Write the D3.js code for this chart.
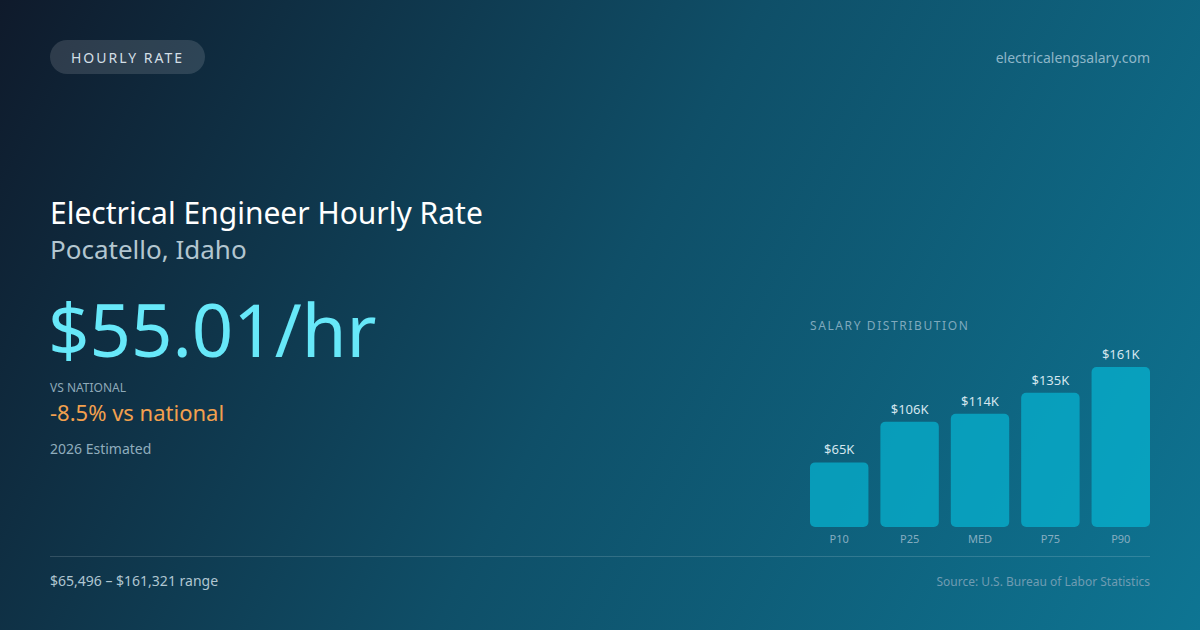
<!DOCTYPE html>
<html>
<head>
<meta charset="utf-8">
<script src="https://cdn.jsdelivr.net/npm/d3@7"></script>
<style>
  html, body { margin: 0; padding: 0; background: #0f172a; }
  svg { display: block; font-family: "Noto Sans", "Open Sans", sans-serif; }
</style>
</head>
<body>
<svg id="chart"></svg>
<script>
const categories = ["P10", "P25", "MED", "P75", "P90"];
const salaryK = [65, 106, 114, 135, 161];
const valueLabels = ["$65K", "$106K", "$114K", "$135K", "$161K"];

const width = 1200;
const height = 630;

const svg = d3.select("#chart")
  .attr("width", width)
  .attr("height", height)
  .attr("viewBox", [0, 0, width, height]);

// Background gradient
const defs = svg.append("defs");
const grad = defs.append("linearGradient")
  .attr("id", "bg")
  .attr("gradientUnits", "userSpaceOnUse")
  .attr("x1", 0).attr("y1", 0)
  .attr("x2", 1200).attr("y2", 630);
grad.append("stop").attr("offset", "0%").attr("stop-color", "#0f1a2b");
grad.append("stop").attr("offset", "50%").attr("stop-color", "#0f4f68");
grad.append("stop").attr("offset", "100%").attr("stop-color", "#0e7593");

svg.append("rect")
  .attr("width", width)
  .attr("height", height)
  .attr("fill", "url(#bg)");

// Pill badge
svg.append("rect")
  .attr("x", 50).attr("y", 40)
  .attr("width", 155).attr("height", 34)
  .attr("rx", 17)
  .attr("fill", "rgba(255,255,255,0.13)");
svg.append("text")
  .attr("x", 127.5).attr("y", 63)
  .attr("text-anchor", "middle")
  .style("font-size", "14px")
  .style("letter-spacing", "2px")
  .style("fill", "#d3dfe6")
  .text("HOURLY RATE");

svg.append("text")
  .attr("x", 1150).attr("y", 63)
  .attr("text-anchor", "end")
  .style("font-size", "14px")
  .style("fill", "#8db6c8")
  .text("electricalengsalary.com");

// Headline block
svg.append("text")
  .attr("x", 50).attr("y", 224)
  .style("font-size", "30px")
  .style("fill", "#ffffff")
  .text("Electrical Engineer Hourly Rate");

svg.append("text")
  .attr("x", 50).attr("y", 259)
  .style("font-size", "26px")
  .style("fill", "#b3c6d0")
  .text("Pocatello, Idaho");

svg.append("text")
  .attr("x", 48).attr("y", 357)
  .style("font-size", "72.5px")
  .style("fill", "#67e8f9")
  .text("$55.01/hr");

svg.append("text")
  .attr("x", 50).attr("y", 392)
  .style("font-size", "12px")
  .style("fill", "#8ea9b8")
  .text("VS NATIONAL");

svg.append("text")
  .attr("x", 50).attr("y", 421)
  .style("font-size", "22px")
  .style("fill", "#f2a04e")
  .text("-8.5% vs national");

svg.append("text")
  .attr("x", 50).attr("y", 454)
  .style("font-size", "14px")
  .style("fill", "#8fadbd")
  .text("2026 Estimated");

// Salary distribution bars
svg.append("text")
  .attr("x", 810).attr("y", 330)
  .style("font-size", "12px")
  .style("letter-spacing", "1.6px")
  .style("fill", "#7fa9bd")
  .text("SALARY DISTRIBUTION");

const x = d3.scaleBand()
  .domain(categories)
  .range([810, 1150])
  .paddingInner(0.17)
  .paddingOuter(0);

const y = d3.scaleLinear()
  .domain([0, 161])
  .range([527, 367]);

const bars = svg.append("g");

bars.selectAll("rect")
  .data(categories)
  .join("rect")
  .attr("x", d => x(d))
  .attr("y", (d, i) => y(salaryK[i]))
  .attr("width", x.bandwidth())
  .attr("height", (d, i) => y(0) - y(salaryK[i]))
  .attr("rx", 5)
  .attr("fill", "rgba(6,182,212,0.7)");

bars.selectAll("text.val")
  .data(categories)
  .join("text")
  .attr("class", "val")
  .attr("x", d => x(d) + x.bandwidth() / 2)
  .attr("y", (d, i) => y(salaryK[i]) - 8)
  .attr("text-anchor", "middle")
  .style("font-size", "13px")
  .style("fill", "#d4e6ee")
  .text((d, i) => valueLabels[i]);

const xAxis = d3.axisBottom(x).tickSize(0).tickPadding(8);
svg.append("g")
  .attr("transform", `translate(0,${y(0)})`)
  .call(xAxis)
  .call(g => g.select(".domain").remove())
  .call(g => g.selectAll("text")
    .style("font-family", "'Noto Sans', 'Open Sans', sans-serif")
    .style("font-size", "11px")
    .style("fill", "#86adc0"));

// Footer
svg.append("line")
  .attr("x1", 50).attr("x2", 1150)
  .attr("y1", 556.5).attr("y2", 556.5)
  .attr("stroke", "rgba(255,255,255,0.15)")
  .attr("stroke-width", 1);

svg.append("text")
  .attr("x", 50).attr("y", 586)
  .style("font-size", "14px")
  .style("fill", "#b0c6d1")
  .text("$65,496 – $161,321 range");

svg.append("text")
  .attr("x", 1150).attr("y", 586)
  .attr("text-anchor", "end")
  .style("font-size", "12px")
  .style("fill", "#6f9cb2")
  .text("Source: U.S. Bureau of Labor Statistics");
</script>
</body>
</html>
